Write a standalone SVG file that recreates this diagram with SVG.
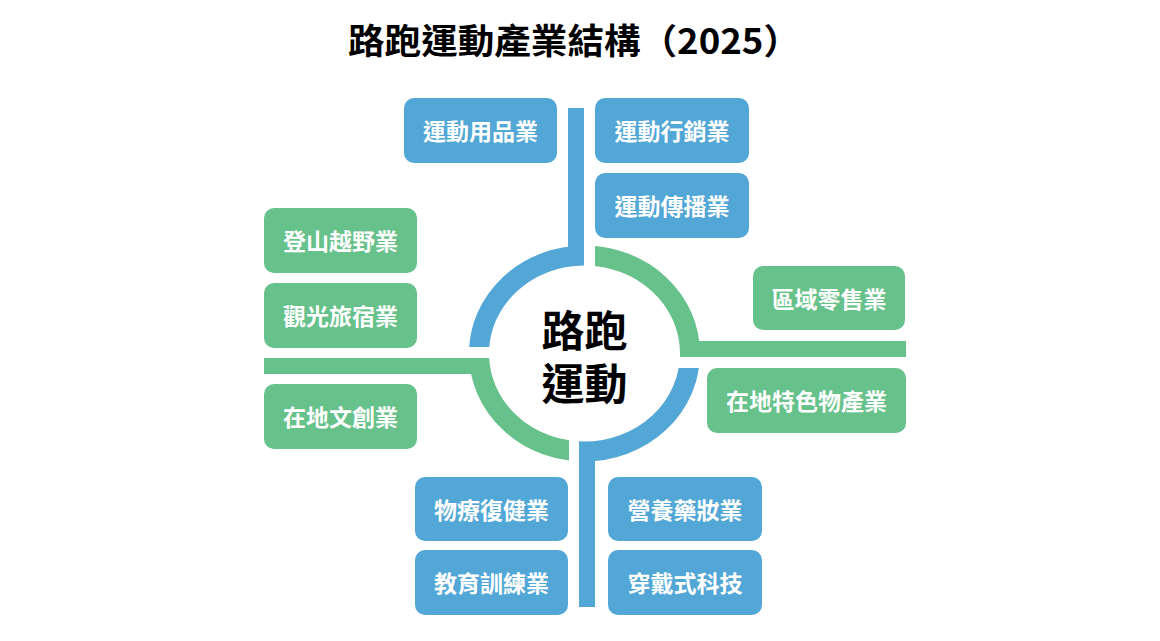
<svg xmlns="http://www.w3.org/2000/svg" width="1160" height="641" viewBox="0 0 1160 641">
  <defs>
    <style>
      .b { fill: #52A7D6; }
      .g { fill: #67C18A; }
      .box { rx: 10; ry: 10; }
      .lbl { font-family: "Noto Sans CJK TC", "Noto Sans CJK SC", sans-serif; font-weight: 700; font-size: 23px; fill: #ffffff; text-anchor: middle; }
      .ringB { fill: none; stroke: #52A7D6; stroke-width: 20; }
      .ringG { fill: none; stroke: #67C18A; stroke-width: 20; }
    </style>
    <clipPath id="cTL"><rect x="0" y="0" width="584" height="347"/></clipPath>
    <clipPath id="cTR"><rect x="595" y="0" width="565" height="357"/></clipPath>
    <clipPath id="cBR"><rect x="579" y="368" width="581" height="273"/></clipPath>
    <clipPath id="cBL"><rect x="0" y="358" width="569" height="283"/></clipPath>
  </defs>
  <rect width="1160" height="641" fill="#ffffff"/>

  <text x="348" y="54" textLength="452" lengthAdjust="spacingAndGlyphs" style="font-family: 'Noto Sans CJK TC', 'Noto Sans CJK SC', sans-serif; font-weight: 700; font-size: 35px; fill: #000000;">路跑運動產業結構（2025）</text>

  <g id="connectors">
    <ellipse class="ringB" cx="584.5" cy="353.5" rx="105.5" ry="98" clip-path="url(#cTL)"/>
    <ellipse class="ringG" cx="584.5" cy="353.5" rx="105.5" ry="98" clip-path="url(#cTR)"/>
    <ellipse class="ringB" cx="584.5" cy="353.5" rx="105.5" ry="98" clip-path="url(#cBR)"/>
    <ellipse class="ringG" cx="584.5" cy="353.5" rx="105.5" ry="98" clip-path="url(#cBL)"/>
    <rect class="b" x="568" y="108" width="16" height="150"/>
    <rect class="g" x="688" y="341" width="218" height="16"/>
    <rect class="b" x="579" y="452" width="16" height="155"/>
    <rect class="g" x="264" y="358" width="216" height="16"/>
  </g>

  <g id="center">
    <text style="font-family: 'Noto Sans CJK TC', 'Noto Sans CJK SC', sans-serif; font-weight: 700; font-size: 43px; fill: #000000; text-anchor: middle;"><tspan x="584.5" y="347">路跑</tspan><tspan x="584.5" y="400">運動</tspan></text>
  </g>

  <g id="n-sports-goods"><rect class="b box" x="404" y="98" width="153" height="65"/><text class="lbl" x="480.5" y="140">運動用品業</text></g>
  <g id="n-sports-marketing"><rect class="b box" x="595" y="98" width="154" height="65"/><text class="lbl" x="672" y="140">運動行銷業</text></g>
  <g id="n-sports-media"><rect class="b box" x="595" y="173" width="154" height="65"/><text class="lbl" x="672" y="215">運動傳播業</text></g>

  <g id="n-trail"><rect class="g box" x="264" y="208" width="153" height="65"/><text class="lbl" x="340.5" y="250">登山越野業</text></g>
  <g id="n-tourism"><rect class="g box" x="264" y="283" width="153" height="65"/><text class="lbl" x="340.5" y="325">觀光旅宿業</text></g>
  <g id="n-culture"><rect class="g box" x="264" y="384" width="153" height="65"/><text class="lbl" x="340.5" y="426">在地文創業</text></g>

  <g id="n-retail"><rect class="g box" x="753" y="266" width="152" height="64"/><text class="lbl" x="829" y="308">區域零售業</text></g>
  <g id="n-local-products"><rect class="g box" x="707" y="368" width="199" height="65"/><text class="lbl" x="806.5" y="410">在地特色物產業</text></g>

  <g id="n-rehab"><rect class="b box" x="415" y="477" width="153" height="64"/><text class="lbl" x="491.5" y="519">物療復健業</text></g>
  <g id="n-education"><rect class="b box" x="415" y="550" width="153" height="65"/><text class="lbl" x="491.5" y="592">教育訓練業</text></g>
  <g id="n-nutrition"><rect class="b box" x="608" y="477" width="154" height="64"/><text class="lbl" x="685" y="519">營養藥妝業</text></g>
  <g id="n-wearable"><rect class="b box" x="608" y="550" width="154" height="65"/><text class="lbl" x="685" y="592">穿戴式科技</text></g>
</svg>
